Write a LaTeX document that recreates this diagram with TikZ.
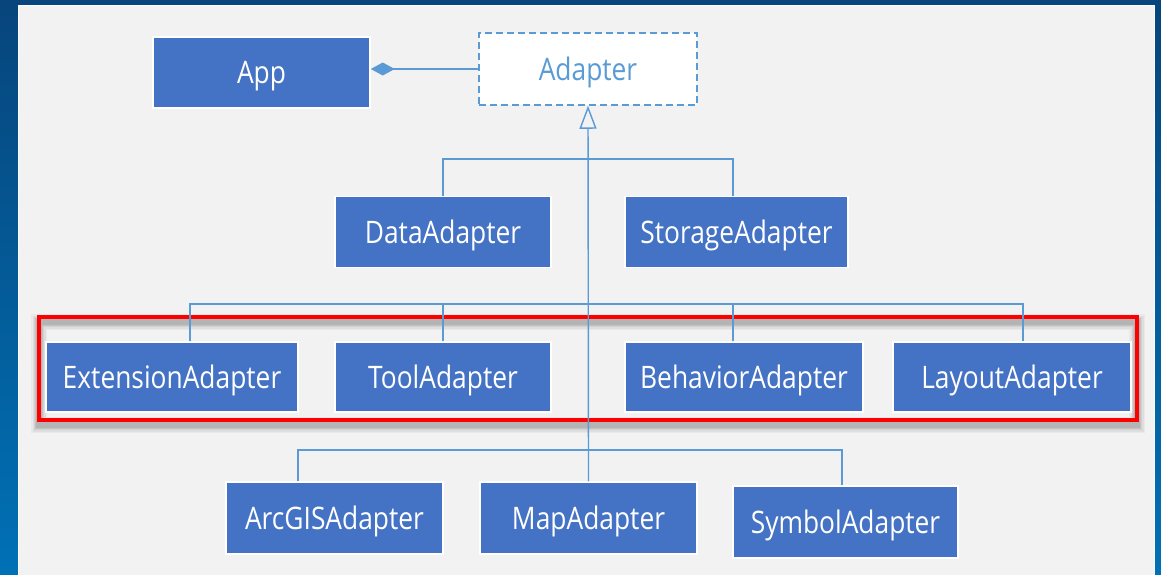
\documentclass[tikz,border=0pt]{standalone}
\usepackage{fontspec}
\setmainfont[FakeStretch=0.85]{Open Sans}
\usetikzlibrary{arrows.meta,calc}
\definecolor{boxblue}{HTML}{4472C4}
\definecolor{linkblue}{HTML}{5B9BD5}
\definecolor{panelgray}{HTML}{F2F2F2}
\definecolor{bgtop}{HTML}{07457C}
\definecolor{bgbottom}{HTML}{0071B5}
\definecolor{framered}{HTML}{FF0000}

\begin{document}
\begin{tikzpicture}[x=1pt,y=-1pt,
  cls/.style={rectangle, fill=boxblue, draw=white, line width=1.5pt,
    text=white, font=\fontsize{31}{36}\selectfont, inner sep=0pt,
    text height=25pt, text depth=3pt},
  iface/.style={rectangle, fill=white, draw=linkblue, line width=1.5pt,
    dash pattern=on 7pt off 4pt, text=linkblue,
    font=\fontsize{31}{36}\selectfont, inner sep=0pt,
    text height=25pt, text depth=3pt},
  link/.style={draw=linkblue, line width=1.4pt},
  inherit/.style={link, -{Triangle[open, length=23pt, width=17pt]}},
  compose/.style={link, -{Diamond[length=24pt, width=13pt, fill=linkblue]}},
]
\useasboundingbox (0,0) rectangle (1161,574);

% backdrop and slide panel
\shade[top color=bgtop, bottom color=bgbottom] (0,0) rectangle (1161,574);
\fill[panelgray] (18,5) rectangle (1154,576);
\draw[white, line width=1pt] (18,5) -- (1154,5);
\draw[white!70!panelgray, line width=0.8pt] (18,5) -- (18,576) (1154,5) -- (1154,576);

% soft shadow and red highlight frame around the second level
\foreach \w/\o in {16/0.035, 13/0.045, 10/0.055, 8/0.065, 6/0.075}
  \draw[black, opacity=\o, line width=\w pt] (39,322) rectangle (1137,425);
\draw[framered, line width=4pt] (39,317) rectangle (1137,420);

% classes
\node[cls, minimum width=217pt, minimum height=71pt] (app) at (261.5,72.5) {App};
\node[iface, minimum width=218pt, minimum height=72pt] (adapter) at (588,69) {Adapter};

\node[cls, minimum width=216pt, minimum height=71pt] (data) at (443,232) {DataAdapter};
\node[cls, minimum width=223pt, minimum height=71pt] (storage) at (736.5,232) {StorageAdapter};

\node[cls, minimum width=252pt, minimum height=70pt] (ext) at (172,377) {ExtensionAdapter};
\node[cls, minimum width=216pt, minimum height=70pt] (tool) at (443,377) {ToolAdapter};
\node[cls, minimum width=238pt, minimum height=70pt] (beh) at (744,377) {BehaviorAdapter};
\node[cls, minimum width=238pt, minimum height=70pt] (lay) at (1012,377) {LayoutAdapter};

\node[cls, minimum width=217pt, minimum height=72pt] (arcgis) at (334.5,518) {ArcGISAdapter};
\node[cls, minimum width=217pt, minimum height=72pt] (map) at (588.5,518) {MapAdapter};
\node[cls, minimum width=225pt, minimum height=72pt] (symbol) at (845.5,522) {SymbolAdapter};

% bus levels
\coordinate (busA) at (588,159);
\coordinate (busB) at (588,304);
\coordinate (busC) at (588,450);

% composition App <>-- Adapter
\draw[compose] (adapter.west) -- (adapter.west -| app.east);

% generalisation trunk
\draw[inherit] (map.north) -- (adapter.south);

% first level
\draw[link] (data.north) |- ([xshift=-3.5pt]storage.north |- busA) -- ([xshift=-3.5pt]storage.north);

% second level
\draw[link] ([xshift=18pt]ext.north) |- ([xshift=11pt]lay.north |- busB) -- ([xshift=11pt]lay.north);
\draw[link] (tool.north) -- (tool.north |- busB);
\draw[link] ([xshift=-11pt]beh.north) -- ([xshift=-11pt]beh.north |- busB);

% third level
\draw[link] ([xshift=-36.5pt]arcgis.north) |- ([xshift=-3.5pt]symbol.north |- busC) -- ([xshift=-3.5pt]symbol.north);
\end{tikzpicture}
\end{document}
